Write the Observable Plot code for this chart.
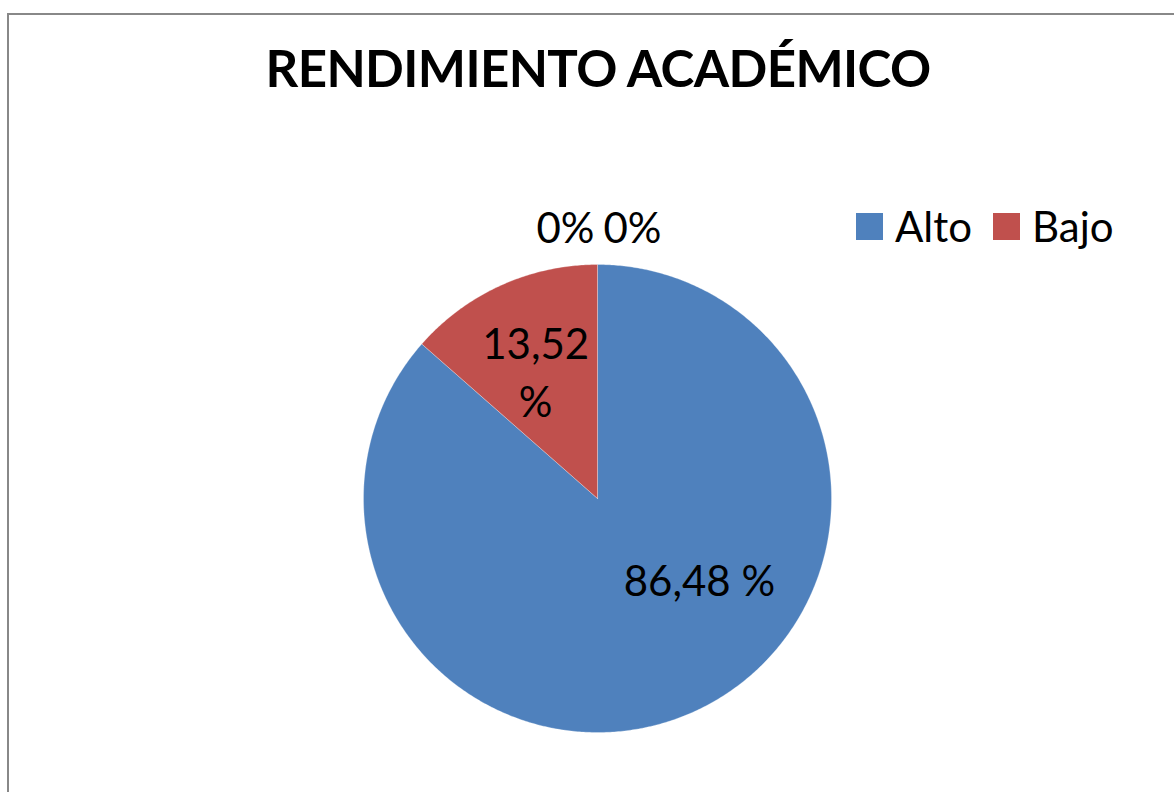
<!DOCTYPE html>
<html>
<head>
<meta charset="utf-8">
<script src="https://cdn.jsdelivr.net/npm/d3@7"></script>
<script src="https://cdn.jsdelivr.net/npm/@observablehq/plot@0.6"></script>
<style>
  html, body { margin: 0; padding: 0; background: #fff; }
  #wrap { position: relative; width: 1174px; height: 792px; overflow: hidden; font-family: Lato, "Open Sans", sans-serif; }
  #frame { position: absolute; left: 7px; top: 13px; width: 1300px; height: 900px; border-left: 2px solid #888; border-top: 2px solid #888; box-sizing: border-box; }
  #title { position: absolute; left: 0; width: 1196px; top: 37px; text-align: center; font-weight: 700; font-size: 51px; color: #000; letter-spacing: -0.6px; }
  #legend { position: absolute; left: 856px; top: 201px; display: flex; align-items: center; font-size: 42px; color: #000; }
  .sw { display: inline-block; width: 27px; height: 27px; margin-right: 12px; }
  .item { display: flex; align-items: center; margin-right: 21px; }
  #chart { position: absolute; left: 0; top: 0; }
</style>
</head>
<body>
<div id="wrap">
  <div id="frame"></div>
  <div id="chart"></div>
  <div id="title"></div>
  <div id="legend"></div>
</div>
<script>
const title = "RENDIMIENTO ACADÉMICO";
const legendCategories = ["Alto", "Bajo"];
const sliceKeys = ["Alto", "Bajo", "Cero1", "Cero2"];
const sliceValues = [86.48, 13.52, 0, 0];
const sliceLabels = ["86,48 %", "13,52\n%", "0%", "0%"];
const colors = ["#4F81BD", "#C0504D", "#9BBB59", "#8064A2"];

document.getElementById("title").textContent = title;
const legend = document.getElementById("legend");
legendCategories.forEach((c, i) => {
  const item = document.createElement("div");
  item.className = "item";
  const sw = document.createElement("span");
  sw.className = "sw";
  sw.style.background = colors[i];
  item.appendChild(sw);
  item.appendChild(document.createTextNode(c));
  legend.appendChild(item);
});

const data = sliceKeys.map((k, i) => ({key: k, value: sliceValues[i], label: sliceLabels[i]}));
const arcs = d3.pie().sort(null).value(d => d.value)(data);

// polygon outline of each non-empty slice (geometry of the wedge)
const poly = [];
arcs.filter(a => a.value > 0).forEach(a => {
  poly.push({key: a.data.key, x: 0, y: 0});
  const n = Math.max(2, Math.ceil((a.endAngle - a.startAngle) / (Math.PI / 360)));
  for (let j = 0; j <= n; ++j) {
    const t = a.startAngle + (a.endAngle - a.startAngle) * j / n;
    poly.push({key: a.data.key, x: Math.sin(t), y: Math.cos(t)});
  }
  poly.push({key: a.data.key, x: 0, y: 0});
});

const mid = a => (a.startAngle + a.endAngle) / 2;
const at = (a, r) => ({x: r * Math.sin(mid(a)), y: r * Math.cos(mid(a)), label: a.data.label});

const altoLab = [at(arcs[0], 0.6)];
const bajoLab = [at(arcs[1], 0.6)];
const zero1 = [at(arcs[2], 1.15)];
const zero2 = [at(arcs[3], 1.15)];

const chart = Plot.plot({
  width: 1174,
  height: 792,
  marginLeft: 363,
  marginRight: 343,
  marginTop: 264,
  marginBottom: 60,
  x: {domain: [-1, 1], axis: null},
  y: {domain: [-1, 1], axis: null},
  color: {domain: sliceKeys, range: colors},
  style: {background: "transparent", overflow: "visible", fontFamily: "Lato, 'Open Sans', sans-serif"},
  marks: [
    Plot.line(poly, {x: "x", y: "y", z: "key", fill: "key", stroke: "#ffffff", strokeOpacity: 0.35, strokeWidth: 0.8, curve: "linear"}),
    Plot.text(altoLab, {x: "x", y: "y", text: "label", fontSize: 42, fill: "#000", dx: 44, dy: -44}),
    Plot.text(bajoLab, {x: "x", y: "y", text: "label", fontSize: 42, fill: "#000", lineHeight: 1.38, dx: -4, dy: -1}),
    Plot.text(zero1, {x: "x", y: "y", text: "label", fontSize: 42, fill: "#000", dx: -32}),
    Plot.text(zero2, {x: "x", y: "y", text: "label", fontSize: 42, fill: "#000", dx: 35})
  ]
});
document.getElementById("chart").appendChild(chart);
</script>
</body>
</html>
